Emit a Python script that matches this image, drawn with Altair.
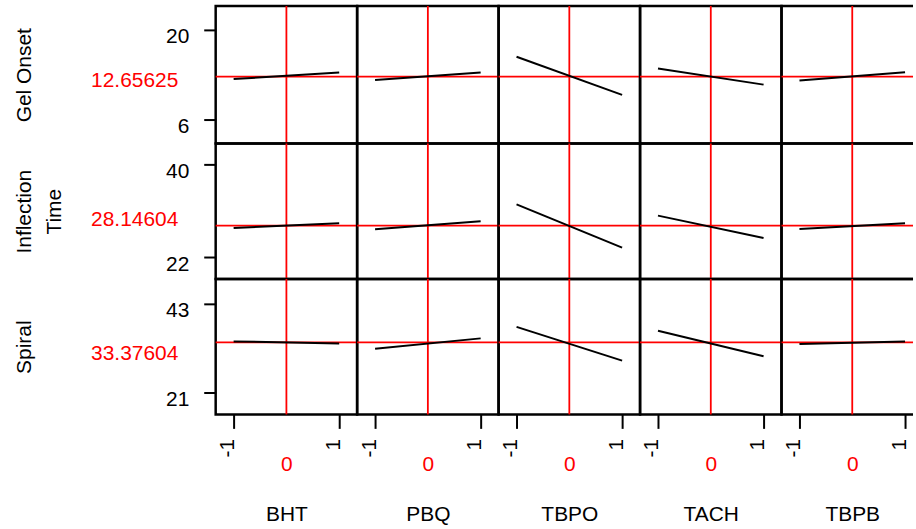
import altair as alt
import pandas as pd

# ---------------- data ----------------
factors = ["BHT", "PBQ", "TBPO", "TACH", "TBPB"]
responses = ["Gel Onset", "Inflection Time", "Spiral"]
response_titles = [["Gel Onset"], ["Inflection", "Time"], ["Spiral"]]
current_response = [12.65625, 28.14604, 33.37604]
current_factor = [0, 0, 0, 0, 0]
factor_low = -1
factor_high = 1

# predicted response at factor = -1 and factor = +1 (one list per response)
gel_at_low = [12.28, 12.13, 15.77, 13.95, 12.04]
gel_at_high = [13.32, 13.32, 9.80, 11.41, 13.33]
infl_at_low = [27.68, 27.43, 32.29, 30.09, 27.49]
infl_at_high = [28.59, 28.98, 23.87, 25.73, 28.59]
spiral_at_low = [33.60, 31.80, 37.22, 36.23, 32.95]
spiral_at_high = [33.10, 34.36, 28.84, 29.93, 33.60]

y_tick_values = [[20, 6], [40, 22], [43, 21]]
x_tick_values = [-1, 1]
y_domains = [[2.19, 23.73], [17.78, 44.12], [15.51, 49.09]]
x_domain = [-1.34, 1.34]
x_domain_last = [-1.34, 1.151]   # right-most panel is cut off at the picture edge

lows = [gel_at_low, infl_at_low, spiral_at_low]
highs = [gel_at_high, infl_at_high, spiral_at_high]

# ---------------- layout / style ----------------
PANEL_W = 142
LAST_W = 132
ROW_H = [138, 136, 136]
RED_LABEL_OFFSET = [3.5, -6.6, 11]
FS = 21
RED = "#ff0000"


def panel(i, j):
    last = j == len(factors) - 1
    w = LAST_W if last else PANEL_W
    xs = alt.Scale(domain=x_domain_last if last else x_domain, nice=False, zero=False)
    ys = alt.Scale(domain=y_domains[i], nice=False, zero=False)
    left = j == 0
    bottom = i == len(responses) - 1

    if left:
        y_axis = alt.Axis(
            values=y_tick_values[i], orient="left", title=response_titles[i],
            titleX=-203, titleY=ROW_H[i] / 2, titleAngle=270, titleAlign="center",
            titleBaseline="top", titleFontSize=FS, titleFontWeight="normal",
            titleLineHeight=30, titleColor="black",
            tickSize=12, tickWidth=2, tickColor="black",
            labelPadding=15, labelFontSize=FS, labelColor="black",
            labelBaseline="middle", labelOffset=7, labelExpr="toString(datum.value)",
            domain=False, grid=False,
        )
        y_axis_red = alt.Axis(
            values=[current_response[i]], orient="left", title=None,
            ticks=False, domain=False, grid=False,
            labelColor=RED, labelFontSize=FS, labelPadding=38,
            labelBaseline="middle", labelOffset=RED_LABEL_OFFSET[i],
            labelExpr="toString(datum.value)",
        )
    else:
        y_axis = None
        y_axis_red = None

    if bottom:
        x_axis = alt.Axis(
            values=x_tick_values, orient="bottom", title=None,
            tickSize=14, tickWidth=2, tickColor="black",
            labelAngle=270, labelAlign="right", labelBaseline="alphabetic",
            labelPadding=10, labelFontSize=FS, labelColor="black",
            labelFlush=False, labelExpr="toString(datum.value)",
            domain=False, grid=False,
        )
        x_axis_red = alt.Axis(
            values=[current_factor[j]], orient="bottom", title=factors[j],
            titleX=PANEL_W / 2, titleY=89, titleBaseline="top", titleFontSize=FS,
            titleFontWeight="normal", titleColor="black",
            ticks=False, domain=False, grid=False,
            labelColor=RED, labelFontSize=FS, labelPadding=39, labelAngle=0,
            labelFlush=False, labelExpr="toString(datum.value)",
        )
    else:
        x_axis = None
        x_axis_red = None

    line_df = pd.DataFrame({"x": [factor_low, factor_high],
                            "y": [lows[i][j], highs[i][j]]})
    vdf = pd.DataFrame({"x": [current_factor[j]]})
    hdf = pd.DataFrame({"y": [current_response[i]]})

    hrule = alt.Chart(hdf).mark_rule(color=RED, strokeWidth=1.8).encode(
        y=alt.Y("y:Q", scale=ys, axis=y_axis_red)
    )
    vrule = alt.Chart(vdf).mark_rule(color=RED, strokeWidth=1.8).encode(
        x=alt.X("x:Q", scale=xs, axis=x_axis_red)
    )
    line = alt.Chart(line_df).mark_line(color="black", strokeWidth=2).encode(
        x=alt.X("x:Q", scale=xs, axis=x_axis),
        y=alt.Y("y:Q", scale=ys, axis=y_axis),
    )
    props = dict(width=w, height=ROW_H[i])
    if last:
        # the panel continues past the picture edge: no right border
        h = ROW_H[i]
        props["view"] = alt.ViewBackground(
            stroke="black", strokeWidth=2.5, strokeDash=[w, h, w + h + 4]
        )
    return (
        alt.layer(hrule, vrule, line)
        .resolve_axis(x="independent", y="independent")
        .properties(**props)
    )


panels = [panel(i, j) for i in range(len(responses)) for j in range(len(factors))]

chart = (
    alt.concat(*panels, columns=len(factors), spacing=0, bounds="flush", align="each")
    .properties(padding={"left": 11.5, "top": 2, "right": 0, "bottom": 0},
                background="white")
    .configure(font="Liberation Sans")
    .configure_view(stroke="black", strokeWidth=2.5)
    .configure_axis(labelFont="Liberation Sans", titleFont="Liberation Sans")
)

chart.save("out.html", embed_options={"renderer": "svg", "actions": False})
